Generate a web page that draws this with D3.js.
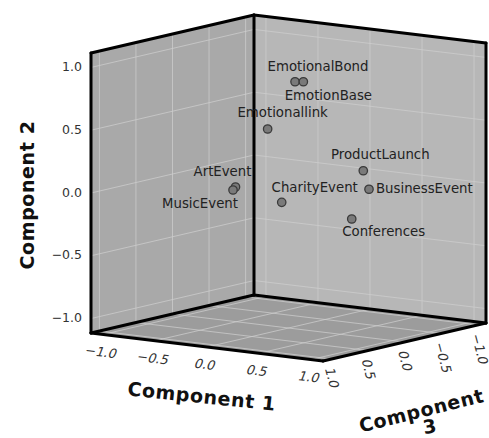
<!DOCTYPE html>
<html lang="en">
<head>
    <meta charset="utf-8">
    <title>Component Plot in Rotated Space</title>
    <script src="https://d3js.org/d3.v7.min.js"></script>
    <style>
        html, body {
            margin: 0;
            padding: 0;
            background: #fff;
        }
        text {
            font-family: "DejaVu Sans", sans-serif;
            fill: #222;
        }
        .pt-label { font-size: 13.3px; }
        .tick-label { font-size: 12.5px; fill: #333; }
        .floor-tick { font-size: 13px; }
        .axis-title { font-size: 19px; font-weight: bold; fill: #111; letter-spacing: 0.6px; }
        .grid { stroke: #cdcdcd; stroke-width: 1; stroke-opacity: 0.75; fill: none; }
        .edge { stroke: #000; stroke-width: 3; fill: none; stroke-linecap: round; }
    </style>
</head>
<body>
<script type="text/javascript">

    // component loadings
    var variables = ["ArtEvent", "MusicEvent", "EmotionalBond", "EmotionBase", "Emotionallink",
                     "CharityEvent", "ProductLaunch", "BusinessEvent", "Conferences"];
    var comp1 = [0.123, 0.106, 0.133, 0.213, -0.060, 0.251, 0.789, 0.844, 0.643];
    var comp2 = [0.142, 0.118, 0.873, 0.881, 0.491, -0.028, 0.230, 0.088, -0.176];
    var comp3 = [0.900, 0.910, 0.100, 0.100, 0.200, 0.450, 0.100, 0.100, 0.050];

    var tickValues = [-1.0, -0.5, 0.0, 0.5, 1.0];
    var tickLabels = ["-1.0", "-0.5", "0.0", "0.5", "1.0"];

    // label placement relative to the marker: [dx, dy, anchor]
    var labelPlace = [
        [-13, -15, "middle"], [-33, 14, "middle"], [23, -15, "middle"], [25, 14, "middle"], [15, -16, "middle"],
        [33, -14, "middle"], [17, -16, "middle"], [7, 0, "start"], [32, 13, "middle"]
    ];

    var w = 489, h = 438;
    var R = 1.115;

    // orthographic box: back-bottom corner and the three edge vectors
    var origin = [254, 295];
    var e1 = [232, 28], e2 = [0, -280], e3 = [-163, 38];

    var s1 = d3.scaleLinear().domain([-R, R]).range([0, 1]);
    var s2 = d3.scaleLinear().domain([-R, R]).range([0, 1]);
    var s3 = d3.scaleLinear().domain([-R, R]).range([0, 1]);

    function proj(a, b, c) {
        var f1 = s1(a), f2 = s2(b), f3 = s3(c);
        return [origin[0] + f1 * e1[0] + f2 * e2[0] + f3 * e3[0],
                origin[1] + f1 * e1[1] + f2 * e2[1] + f3 * e3[1]];
    }

    var line = d3.line();

    var svg = d3.select("body").append("svg")
        .attr("width", w)
        .attr("height", h);

    // walls and floor
    svg.append("path")  // left wall (comp1 = -R)
        .attr("d", line([proj(-R, -R, -R), proj(-R, R, -R), proj(-R, R, R), proj(-R, -R, R)]) + "Z")
        .attr("fill", "#a9a9a9");
    svg.append("path")  // right wall (comp3 = -R)
        .attr("d", line([proj(-R, -R, -R), proj(-R, R, -R), proj(R, R, -R), proj(R, -R, -R)]) + "Z")
        .attr("fill", "#b7b7b7");
    svg.append("path")  // floor (comp2 = -R)
        .attr("d", line([proj(-R, -R, -R), proj(R, -R, -R), proj(R, -R, R), proj(-R, -R, R)]) + "Z")
        .attr("fill", "#9c9c9c");

    // grid lines
    var grid = svg.append("g");
    tickValues.forEach(function(t) {
        // left wall
        grid.append("path").attr("class", "grid").attr("d", line([proj(-R, t, -R), proj(-R, t, R)]));
        grid.append("path").attr("class", "grid").attr("d", line([proj(-R, -R, t), proj(-R, R, t)]));
        // right wall
        grid.append("path").attr("class", "grid").attr("d", line([proj(-R, t, -R), proj(R, t, -R)]));
        grid.append("path").attr("class", "grid").attr("d", line([proj(t, -R, -R), proj(t, R, -R)]));
        // floor
        grid.append("path").attr("class", "grid").attr("d", line([proj(t, -R, -R), proj(t, -R, R)]));
        grid.append("path").attr("class", "grid").attr("d", line([proj(-R, -R, t), proj(R, -R, t)]));
    });

    // box edges
    var edges = [
        [proj(-R, -R, R), proj(-R, R, R)],
        [proj(-R, -R, -R), proj(-R, R, -R)],
        [proj(R, -R, -R), proj(R, R, -R)],
        [proj(-R, R, R), proj(-R, R, -R)],
        [proj(-R, R, -R), proj(R, R, -R)],
        [proj(-R, -R, R), proj(-R, -R, -R)],
        [proj(-R, -R, -R), proj(R, -R, -R)],
        [proj(-R, -R, R), proj(R, -R, R)],
        [proj(R, -R, R), proj(R, -R, -R)]
    ];
    svg.append("g").selectAll("path")
        .data(edges)
        .enter().append("path")
        .attr("class", "edge")
        .attr("d", function(d) { return line(d); });

    // comp2 tick labels (left front edge)
    svg.append("g").selectAll("text")
        .data(tickValues)
        .enter().append("text")
        .attr("class", "tick-label")
        .attr("x", function(d) { return proj(-R, d, R)[0] - 9; })
        .attr("y", function(d) { return proj(-R, d, R)[1]; })
        .attr("text-anchor", "end")
        .attr("dominant-baseline", "middle")
        .text(function(d, i) { return tickLabels[i].replace("-", "\u2212"); });

    // comp1 tick labels (floor front-left edge)
    svg.append("g").selectAll("text")
        .data(tickValues)
        .enter().append("text")
        .attr("class", "tick-label floor-tick")
        .attr("text-anchor", "middle")
        .attr("dominant-baseline", "middle")
        .attr("transform", function(d) {
            var p = proj(d, -R, R);
            return "translate(" + (p[0] - 2) + "," + (p[1] + 18) + ") rotate(7) skewX(-14)";
        })
        .text(function(d, i) { return tickLabels[i].replace("-", "\u2212"); });

    // comp3 tick labels (floor front-right edge)
    svg.append("g").selectAll("text")
        .data(tickValues)
        .enter().append("text")
        .attr("class", "tick-label floor-tick")
        .attr("text-anchor", "start")
        .attr("dominant-baseline", "middle")
        .attr("transform", function(d) {
            var p = proj(R, -R, d);
            return "translate(" + (p[0] - 3) + "," + (p[1] + 9) + ") rotate(75) skewX(-12)";
        })
        .text(function(d, i) { return tickLabels[i].replace("-", "\u2212"); });

    // points
    var pts = variables.map(function(v, i) {
        var p = proj(comp1[i], comp2[i], comp3[i]);
        return { name: v, x: p[0], y: p[1], i: i };
    });

    svg.append("g").selectAll("circle")
        .data(pts)
        .enter().append("circle")
        .attr("cx", function(d) { return d.x; })
        .attr("cy", function(d) { return d.y; })
        .attr("r", 4.2)
        .attr("fill", "#7a7a7a")
        .attr("stroke", "#3a3a3a")
        .attr("stroke-width", 1.3);

    svg.append("g").selectAll("text")
        .data(pts)
        .enter().append("text")
        .attr("class", "pt-label")
        .attr("x", function(d) { return d.x + labelPlace[d.i][0]; })
        .attr("y", function(d) { return d.y + labelPlace[d.i][1]; })
        .attr("text-anchor", function(d) { return labelPlace[d.i][2]; })
        .attr("dominant-baseline", "middle")
        .text(function(d) { return d.name; });

    // axis titles
    svg.append("text")
        .attr("class", "axis-title")
        .attr("text-anchor", "middle")
        .attr("transform", "translate(34,195) rotate(-90)")
        .text("Component 2");

    svg.append("text")
        .attr("class", "axis-title")
        .attr("text-anchor", "middle")
        .attr("transform", "translate(201,403) rotate(6)")
        .text("Component 1");

    svg.append("text")
        .attr("class", "axis-title")
        .attr("text-anchor", "middle")
        .attr("transform", "translate(423,417) rotate(-14)")
        .text("Component");

    svg.append("text")
        .attr("class", "axis-title")
        .attr("text-anchor", "middle")
        .attr("transform", "translate(431,433) rotate(-10)")
        .text("3");

</script>
</body>
</html>
